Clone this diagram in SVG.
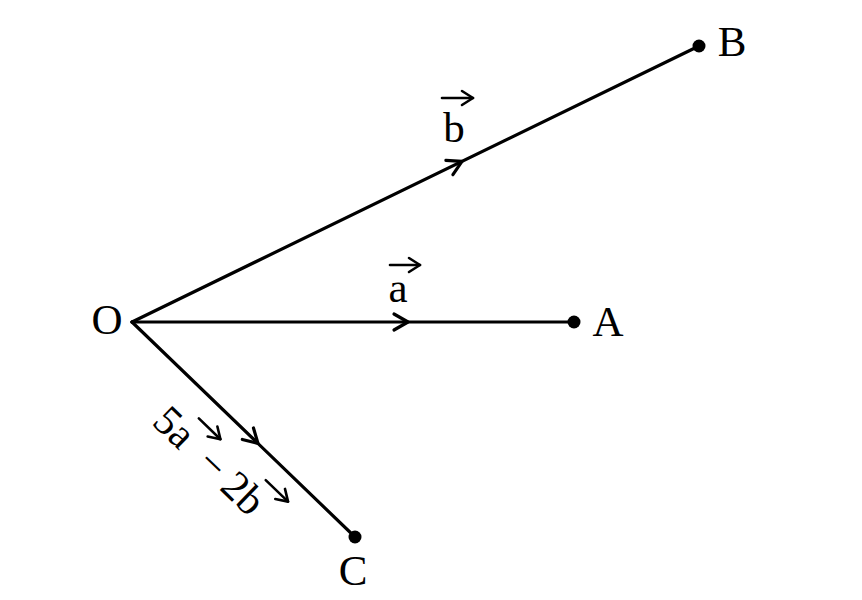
<svg xmlns="http://www.w3.org/2000/svg" width="862" height="600" viewBox="0 0 862 600">
<style>
.ln{stroke:#000;stroke-width:3.2;fill:none;stroke-linecap:round;stroke-linejoin:round}
.vec{stroke:#000;stroke-width:2.6;fill:none;stroke-linecap:round;stroke-linejoin:round}
.t{font-family:"Liberation Serif","Times New Roman",serif;font-size:43px;fill:#000}
.tr{font-family:"Liberation Serif","Times New Roman",serif;font-size:42px;fill:#000}
</style>
<defs>
<path id="chev" d="M-14,-8 L0,0 L-14,8" class="ln"/>
<path id="vchev" d="M-11,-7 L0,0 L-11,7" class="vec"/>
</defs>
<rect width="862" height="600" fill="#fff"/>
<g id="connectors">
<line class="ln" x1="132" y1="322" x2="699" y2="46"/>
<line class="ln" x1="132" y1="322" x2="574" y2="322"/>
<line class="ln" x1="132" y1="322" x2="355" y2="537"/>
<use href="#chev" transform="translate(462,161.4) rotate(-25.96)"/>
<use href="#chev" transform="translate(408,322)"/>
<use href="#chev" transform="translate(132,322) rotate(43.95) translate(175,0)"/>
</g>
<g id="node-O"><text class="t" x="107" y="334" text-anchor="middle">O</text></g>
<g id="node-A"><circle cx="574" cy="322" r="6.5"/><text class="t" x="608" y="336" text-anchor="middle">A</text></g>
<g id="node-B"><circle cx="699" cy="46" r="6.5"/><text class="t" x="732" y="56" text-anchor="middle">B</text></g>
<g id="node-C"><circle cx="355" cy="537" r="6.5"/><text class="t" x="353" y="585" text-anchor="middle">C</text></g>
<g id="label-a">
<text class="t" x="398" y="302" text-anchor="middle">a</text>
<line class="vec" x1="390" y1="265" x2="420" y2="265"/><use href="#vchev" transform="translate(420,265)"/>
</g>
<g id="label-b">
<text class="t" x="454" y="142" text-anchor="middle">b</text>
<line class="vec" x1="442" y1="98" x2="473" y2="98"/><use href="#vchev" transform="translate(473,98)"/>
</g>
<g id="label-c" transform="translate(132,322) rotate(43.95)">
<text class="tr" y="60"><tspan x="84">5a</tspan><tspan x="145">−</tspan><tspan x="178">2b</tspan></text>
<line class="vec" x1="115" y1="23" x2="145" y2="23"/><use href="#vchev" transform="translate(145,23)"/>
<line class="vec" x1="206" y1="21" x2="237" y2="21"/><use href="#vchev" transform="translate(237,21)"/>
</g>
</svg>
